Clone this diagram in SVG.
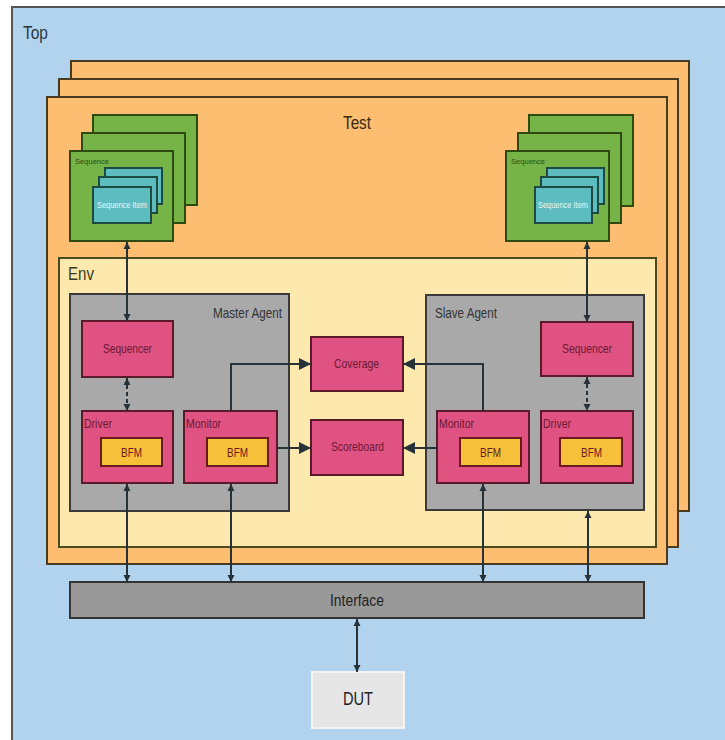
<svg xmlns="http://www.w3.org/2000/svg" width="725" height="740" viewBox="0 0 725 740">
<defs>
<marker id="ah" viewBox="0 0 10 10" refX="10" refY="5" markerWidth="7" markerHeight="11" markerUnits="userSpaceOnUse" orient="auto-start-reverse">
<path d="M0,0 L10,5 L0,10 z" fill="#263238"/>
</marker>
<marker id="ahL" viewBox="0 0 10 10" refX="10" refY="5" markerWidth="16" markerHeight="12" markerUnits="userSpaceOnUse" orient="auto-start-reverse">
<path d="M0,0 L10,5 L0,10 z" fill="#263238"/>
</marker>
<style>
text{font-family:"Liberation Sans",Arial,sans-serif}
.test{fill:#fdbe72;stroke:#4a3a20;stroke-width:2}
.env{fill:#fde9ae;stroke:#4a4a20;stroke-width:2}
.agent{fill:#a9a9a9;stroke:#3a3a3a;stroke-width:2}
.pink{fill:#df5281;stroke:#5a1a2a;stroke-width:2}
.bfm{fill:#f6c03a;stroke:#6a1a1a;stroke-width:2}
.seq{fill:#76b448;stroke:#2d4a10;stroke-width:2}
.item{fill:#5cbcbf;stroke:#1e4a40;stroke-width:2}
.lbl{fill:#6b1a36;font-size:13px}
.big{fill:#333;font-size:15px}
.bfmt{fill:#6b1a20;font-size:13px}
.conn{stroke:#263238;stroke-width:2;fill:none}
.v{marker-start:url(#ah);marker-end:url(#ah)}
.h{marker-end:url(#ahL)}
</style>
</defs>
<g id="top">
<rect x="12" y="7" width="720" height="740" fill="#b2d3ee" stroke="#555" stroke-width="2"/>
<text x="23" y="39" font-size="18" fill="#2a3440" textLength="25" lengthAdjust="spacingAndGlyphs">Top</text>
</g>
<g id="test">
<rect class="test" x="71" y="61" width="618" height="450"/>
<rect class="test" x="59" y="79" width="619" height="468"/>
<rect class="test" x="47" y="97" width="620" height="467"/>
<text x="343" y="129" font-size="19" fill="#3a2a10" textLength="28" lengthAdjust="spacingAndGlyphs">Test</text>
</g>
<g id="seq-left">
<rect class="seq" x="93" y="115" width="104" height="90"/>
<rect class="seq" x="82" y="133" width="103" height="90"/>
<rect class="seq" x="70" y="151" width="103" height="90"/>
<text x="75" y="164" font-size="8" fill="#2d4a10" textLength="34" lengthAdjust="spacingAndGlyphs">Sequence</text>
<rect class="item" x="105" y="168" width="57" height="36"/>
<rect class="item" x="99" y="177" width="58" height="36"/>
<rect class="item" x="93" y="187" width="58" height="36"/>
<text x="97" y="208" font-size="8.5" fill="#e8f8f8" textLength="50" lengthAdjust="spacingAndGlyphs">Sequence Item</text>
</g>
<g id="seq-right">
<rect class="seq" x="529" y="115" width="104" height="91"/>
<rect class="seq" x="518" y="133" width="103" height="90"/>
<rect class="seq" x="506" y="151" width="103" height="90"/>
<text x="511" y="164" font-size="8" fill="#2d4a10" textLength="34" lengthAdjust="spacingAndGlyphs">Sequence</text>
<rect class="item" x="547" y="168" width="57" height="36"/>
<rect class="item" x="541" y="177" width="57" height="36"/>
<rect class="item" x="535" y="187" width="57" height="36"/>
<text x="538" y="208" font-size="8.5" fill="#e8f8f8" textLength="50" lengthAdjust="spacingAndGlyphs">Sequence Item</text>
</g>
<g id="env">
<rect class="env" x="59" y="258" width="597" height="289"/>
<text x="68" y="280" font-size="19" fill="#3a3a20" textLength="26" lengthAdjust="spacingAndGlyphs">Env</text>
</g>
<g id="master-agent">
<rect class="agent" x="70" y="294" width="219" height="217"/>
<text x="213" y="318" class="big" textLength="69" lengthAdjust="spacingAndGlyphs">Master Agent</text>
</g>
<g id="master-sequencer">
<rect class="pink" x="82" y="321" width="91" height="56"/>
<text x="103" y="353" class="lbl" textLength="49" lengthAdjust="spacingAndGlyphs">Sequencer</text>
</g>
<g id="master-driver">
<rect class="pink" x="82" y="411" width="91" height="72"/>
<text x="84" y="428" class="lbl" textLength="28" lengthAdjust="spacingAndGlyphs">Driver</text>
<rect class="bfm" x="101" y="438" width="61" height="28"/>
<text x="121" y="457" class="bfmt" textLength="21" lengthAdjust="spacingAndGlyphs">BFM</text>
</g>
<g id="master-monitor">
<rect class="pink" x="184" y="411" width="93" height="72"/>
<text x="186" y="428" class="lbl" textLength="35" lengthAdjust="spacingAndGlyphs">Monitor</text>
<rect class="bfm" x="207" y="438" width="61" height="28"/>
<text x="227" y="457" class="bfmt" textLength="21" lengthAdjust="spacingAndGlyphs">BFM</text>
</g>
<g id="coverage">
<rect class="pink" x="311" y="337" width="92" height="54"/>
<text x="334" y="368" class="lbl" textLength="45" lengthAdjust="spacingAndGlyphs">Coverage</text>
</g>
<g id="scoreboard">
<rect class="pink" x="311" y="420" width="92" height="55"/>
<text x="331" y="451" class="lbl" textLength="53" lengthAdjust="spacingAndGlyphs">Scoreboard</text>
</g>
<g id="slave-agent">
<rect class="agent" x="426" y="295" width="218" height="215"/>
<text x="435" y="318" class="big" textLength="62" lengthAdjust="spacingAndGlyphs">Slave Agent</text>
</g>
<g id="slave-sequencer">
<rect class="pink" x="541" y="322" width="92" height="54"/>
<text x="562" y="353" class="lbl" textLength="50" lengthAdjust="spacingAndGlyphs">Sequencer</text>
</g>
<g id="slave-monitor">
<rect class="pink" x="437" y="411" width="92" height="72"/>
<text x="439" y="428" class="lbl" textLength="35" lengthAdjust="spacingAndGlyphs">Monitor</text>
<rect class="bfm" x="460" y="438" width="61" height="28"/>
<text x="480" y="457" class="bfmt" textLength="21" lengthAdjust="spacingAndGlyphs">BFM</text>
</g>
<g id="slave-driver">
<rect class="pink" x="541" y="411" width="92" height="72"/>
<text x="543" y="428" class="lbl" textLength="28" lengthAdjust="spacingAndGlyphs">Driver</text>
<rect class="bfm" x="560" y="438" width="62" height="28"/>
<text x="581" y="457" class="bfmt" textLength="21" lengthAdjust="spacingAndGlyphs">BFM</text>
</g>
<g id="interface">
<rect x="70" y="582" width="574" height="36" fill="#999" stroke="#333" stroke-width="2"/>
<text x="330" y="606" font-size="16" fill="#222" textLength="54" lengthAdjust="spacingAndGlyphs">Interface</text>
</g>
<g id="dut">
<rect x="312" y="672" width="92" height="56" fill="#e6e6e6" stroke="#f4f4f4" stroke-width="2"/>
<text x="343" y="705" font-size="18" fill="#222" textLength="30" lengthAdjust="spacingAndGlyphs">DUT</text>
</g>
<g id="connectors">
<line class="conn v" x1="127" y1="242" x2="127" y2="321"/>
<line class="conn v" x1="587" y1="242" x2="587" y2="322"/>
<line class="conn v" x1="127" y1="378" x2="127" y2="411" stroke-dasharray="4,3"/>
<line class="conn v" x1="587" y1="377" x2="587" y2="411" stroke-dasharray="4,3"/>
<path class="conn h" d="M231 411 V364 H311"/>
<path class="conn h" d="M277 448 H311"/>
<path class="conn h" d="M483 411 V364 H403"/>
<path class="conn h" d="M437 448 H403"/>
<line class="conn v" x1="127" y1="484" x2="127" y2="582"/>
<line class="conn v" x1="231" y1="484" x2="231" y2="582"/>
<line class="conn v" x1="483" y1="484" x2="483" y2="582"/>
<line class="conn v" x1="588" y1="511" x2="588" y2="582"/>
<line class="conn v" x1="357" y1="619" x2="357" y2="672"/>
</g>
</svg>
